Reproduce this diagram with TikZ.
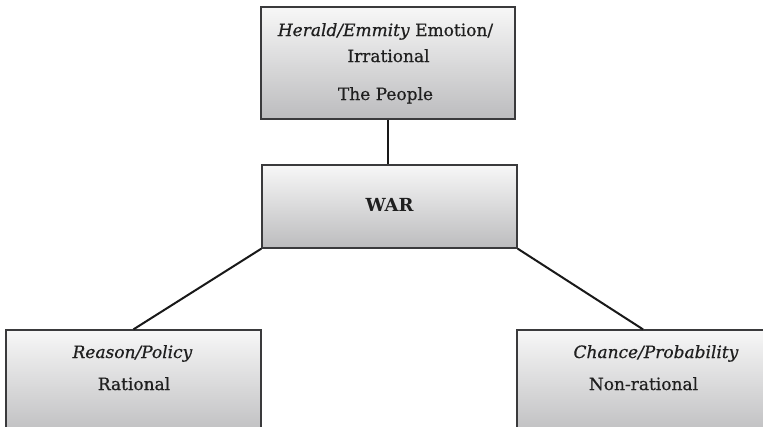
\documentclass[tikz,border=0pt]{standalone}
\usepackage{fontspec}
\setmainfont{DejaVu Serif}
% a slightly heavier face for the box texts
\newfontfamily\boxfont{DejaVu Serif}[FakeBold=0.6, ItalicFeatures={FakeBold=0.6}]
\begin{document}
\begin{tikzpicture}[x=1pt,y=-1pt,
  box/.style={draw=boxline, line width=1.3pt, top color=boxtop, bottom color=boxbot,
    inner sep=0pt},
  txt/.style={anchor=base, inner sep=0pt, text=black!88, font=\fontsize{17}{21}\boxfont},
  link/.style={draw=black!90, line width=2pt}]
\definecolor{boxline}{HTML}{3A3A3C}
\definecolor{boxtop}{HTML}{F7F7F7}
\definecolor{boxbot}{HTML}{BCBCBE}
\clip (0,0) rectangle (763,426);
\fill[white] (0,0) rectangle (763,426);
% boxes
\node[box, minimum width=254pt, minimum height=112pt] (people) at (388,63) {};
\node[box, minimum width=255pt, minimum height=83pt] (war) at (389.5,206.5) {};
\node[box, minimum width=255pt, minimum height=110pt] (policy) at (133.5,385) {};
\node[box, minimum width=252pt, minimum height=110pt] (chance) at (643,385) {};
% labels
\node[txt] (p1) at (385.5,36) {\textit{Herald/Emmity} Emotion/};
\node[txt] (p2) at (388.5,62) {Irrational};
\node[txt] (p3) at (385.5,100) {The People};
\node[txt, font=\fontsize{18}{22}\selectfont\bfseries] (w1) at (389.5,211) {WAR};
\node[txt] (r1) at (132.5,358) {\textit{Reason/Policy}};
\node[txt] (r2) at (134,390) {Rational};
\node[txt] (c1) at (656,358) {\textit{Chance/Probability}};
\node[txt] (c2) at (643.5,390) {Non-rational};
% connectors
\draw[link] (people.south) -- (people.south |- war.north);
\draw[link] (war.south west) -- (policy.north);
\draw[link] (war.south east) -- (chance.north);
\end{tikzpicture}
\end{document}
